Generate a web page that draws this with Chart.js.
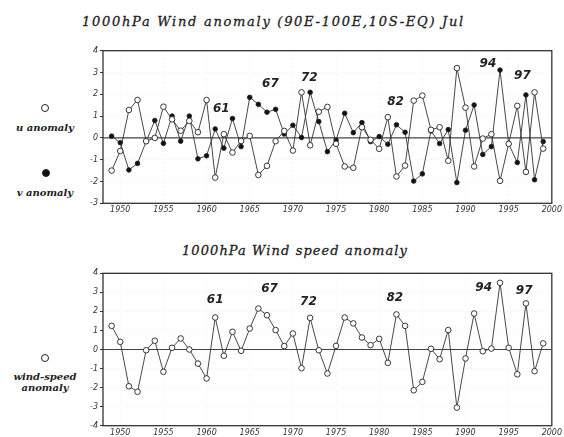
<!DOCTYPE html>
<html>
<head>
<meta charset="utf-8">
<script src="https://cdn.jsdelivr.net/npm/chart.js@4/dist/chart.umd.min.js"></script>
<style>
  html, body { margin: 0; padding: 0; background: #fff; }
  body { width: 564px; height: 437px; position: relative; overflow: hidden; font-family: 'DejaVu Serif', serif; color: #222; }
  .panel { position: absolute; left: 0; width: 564px; }
  .ttl { position: absolute; font-style: italic; white-space: nowrap; font-size: 13px; line-height: 14px; -webkit-text-stroke: 0.3px #222; }
  .leg { position: absolute; width: 90px; text-align: center; font-style: italic; font-weight: bold; font-size: 10px; line-height: 11px; white-space: nowrap; }
  .mk { position: absolute; width: 6px; height: 6px; border-radius: 50%; border: 1px solid #222; background: #fff; }
  .mk.full { background: #111; }
</style>
</head>
<body>
<div class="ttl" id="t1" style="left:82px; top:15px;">1000hPa Wind anomaly (90E-100E,10S-EQ) Jul</div>
<div class="ttl" id="t2" style="left:182px; top:244px;">1000hPa Wind speed anomaly</div>

<div class="mk" style="left:41px; top:104px;"></div>
<div class="leg" style="left:0px; top:122px;">u anomaly</div>
<div class="mk full" style="left:42px; top:169px;"></div>
<div class="leg" style="left:0px; top:187px;">v anomaly</div>
<div class="mk" style="left:41px; top:354px;"></div>
<div class="leg" style="left:0px; top:371px;">wind-speed<br>anomaly</div>

<div class="panel" style="top:0; height:220px;"><canvas id="top"></canvas></div>
<div class="panel" style="top:220px; height:217px;"><canvas id="bottom"></canvas></div>

<script>
// --- dados ---
const years = [1949,1950,1951,1952,1953,1954,1955,1956,1957,1958,1959,1960,1961,1962,1963,1964,1965,1966,1967,1968,1969,
  1970,1971,1972,1973,1974,1975,1976,1977,1978,1979,1980,1981,1982,1983,1984,1985,1986,1987,1988,1989,
  1990,1991,1992,1993,1994,1995,1996,1997,1998,1999];

const uAnomaly = [-1.5,-0.6,1.28,1.74,-0.15,0.0,1.43,0.85,0.33,0.78,0.26,1.74,-1.82,0.17,-0.67,-0.14,0.09,-1.7,-1.28,-0.15,0.32,
  -0.58,2.09,-0.34,1.2,1.42,-0.27,-1.31,-1.37,0.49,-0.09,-0.5,0.95,-1.77,-1.27,1.71,1.94,0.37,0.49,-1.05,3.2,
  1.39,-1.31,-0.03,0.17,-1.97,-0.27,1.47,-1.56,2.09,-0.49];

const vAnomaly = [0.08,-0.22,-1.47,-1.17,-0.17,0.8,-0.25,1.0,-0.15,1.0,-0.96,-0.82,0.41,-0.47,0.89,-0.4,1.86,1.54,1.18,1.31,0.18,
  0.58,0.02,2.09,0.75,-0.63,-0.1,1.13,0.24,0.7,-0.17,0.06,-0.29,0.6,0.26,-1.98,-1.65,0.32,-0.26,0.38,-2.05,
  0.35,1.51,-0.76,-0.4,3.11,-0.27,-1.13,1.97,-1.92,-0.17];

const speedAnomaly = [1.24,0.4,-1.93,-2.22,-0.04,0.46,-1.17,0.09,0.58,0.0,-0.74,-1.52,1.68,-0.33,0.93,-0.07,1.1,2.15,1.8,1.02,0.18,
  0.84,-0.98,1.66,-0.04,-1.26,0.19,1.68,1.37,0.63,0.23,0.56,-0.7,1.84,1.24,-2.14,-1.7,0.04,-0.51,1.02,-3.05,
  -0.47,1.89,-0.09,0.05,3.5,0.09,-1.3,2.42,-1.14,0.32];

const xTickYears = [1950,1955,1960,1965,1970,1975,1980,1985,1990,1995,2000];
const topYTicks = [-3,-2,-1,0,1,2,3,4];
const bottomYTicks = [-4,-3,-2,-1,0,1,2,3,4];

// rótulos dos anos marcados: [texto, ano, valor]
const topMarks = [['61',1961.7,1.35],['67',1967.4,2.5],['72',1971.9,2.77],['82',1981.9,1.63],['94',1992.6,3.4],['97',1996.6,2.86]];
const bottomMarks = [['61',1961.0,2.59],['67',1967.3,3.17],['72',1971.8,2.49],['82',1981.8,2.7],['94',1992.1,3.22],['97',1996.8,3.06]];

// ajusta o espaçamento dos títulos para a largura do original
function fitText(id, w) {
  const el = document.getElementById(id);
  const n = el.textContent.length;
  const natural = el.getBoundingClientRect().width;
  el.style.letterSpacing = ((w - natural) / n) + 'px';
}
fitText('t1', 383);
fitText('t2', 226);

const tickFont = { family: 'DejaVu Sans', size: 8, style: 'italic' };

const framePlugin = {
  id: 'frame',
  beforeDatasetsDraw(chart) {
    const { ctx, chartArea: a, scales } = chart;
    const y0 = scales.y.getPixelForValue(0);
    ctx.save();
    ctx.strokeStyle = '#444';
    ctx.lineWidth = 1.2;
    ctx.beginPath();
    ctx.moveTo(a.left, y0);
    ctx.lineTo(a.right, y0);
    ctx.stroke();
    ctx.restore();
  },
  afterDraw(chart, args, opts) {
    const { ctx, chartArea: a, scales } = chart;
    ctx.save();
    ctx.strokeStyle = '#333';
    ctx.lineWidth = 1.3;
    ctx.strokeRect(a.left, a.top, a.right - a.left, a.bottom - a.top);
    ctx.fillStyle = '#222';
    ctx.font = 'italic bold 12px "DejaVu Sans"';
    ctx.textAlign = 'center';
    ctx.textBaseline = 'middle';
    (opts.marks || []).forEach(([txt, yr, v]) => {
      ctx.fillText(txt, scales.x.getPixelForValue(yr), scales.y.getPixelForValue(v));
    });
    ctx.restore();
  }
};

function lineSet(data, filled) {
  return {
    data: years.map((yr, i) => ({ x: yr, y: data[i] })),
    borderColor: '#333',
    borderWidth: 0.9,
    pointRadius: filled ? 2.3 : 2.8,
    pointBackgroundColor: filled ? '#111' : '#fff',
    pointBorderColor: '#222',
    pointBorderWidth: 0.9,
    tension: 0
  };
}

function makeChart(id, datasets, yMin, yMax, yTicks, marks, topPad, xHeight) {
  return new Chart(document.getElementById(id), {
    type: 'line',
    data: { datasets },
    plugins: [framePlugin],
    options: {
      responsive: true,
      maintainAspectRatio: false,
      animation: false,
      layout: { padding: { left: 0, right: 9, top: topPad, bottom: 0 } },
      plugins: { legend: { display: false }, tooltip: { enabled: false }, frame: { marks } },
      scales: {
        x: {
          type: 'linear', min: 1948, max: 2000,
          afterBuildTicks: s => { s.ticks = xTickYears.map(v => ({ value: v })); },
          afterFit: s => { s.height = xHeight; },
          grid: { color: 'rgba(0,0,0,0.06)', drawTicks: false },
          border: { display: false, dash: [1, 3] },
          ticks: { font: tickFont, color: '#333', padding: 2, maxRotation: 0, callback: v => String(v) }
        },
        y: {
          min: yMin, max: yMax,
          afterBuildTicks: s => { s.ticks = yTicks.map(v => ({ value: v })); },
          afterFit: s => { s.width = 103; },
          grid: { color: 'rgba(0,0,0,0.06)', tickColor: '#333', tickLength: 3 },
          border: { display: false, dash: [1, 3] },
          ticks: { font: tickFont, color: '#333', padding: 2 }
        }
      }
    }
  });
}

makeChart('top', [lineSet(uAnomaly, false), lineSet(vAnomaly, true)], -3, 4, topYTicks, topMarks, 50.7, 16.7);
makeChart('bottom', [lineSet(speedAnomaly, false)], -4, 4, bottomYTicks, bottomMarks, 53.3, 11.3);
</script>
</body>
</html>
